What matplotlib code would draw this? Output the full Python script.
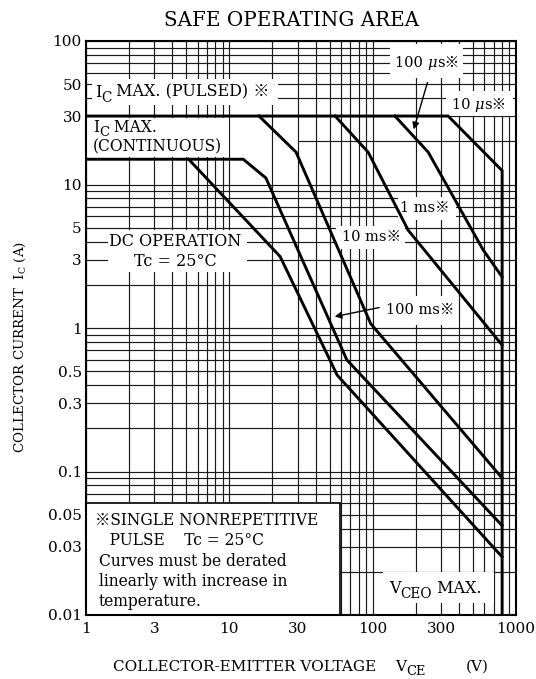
import matplotlib
matplotlib.use("Agg")
import matplotlib.pyplot as plt
from matplotlib.patches import Rectangle

plt.rcParams["font.family"] = ["DejaVu Serif", "Noto Sans CJK JP"]
plt.rcParams["mathtext.fontset"] = "dejavuserif"

# safe operating area curves (V_CE [V], I_C [A])
pulsed_v = [1, 336, 800, 800]          # I_C max pulsed + 10 us + V_CEO max
pulsed_i = [30, 30, 12.5, 0.01]
us100_v = [143, 244, 590, 800]
us100_i = [30, 16.8, 3.5, 2.27]
ms1_v = [54.7, 93, 177, 800]
ms1_i = [30, 16.8, 4.8, 0.76]
ms10_v = [16.1, 29.2, 97, 800]
ms10_i = [30, 16.8, 1.07, 0.090]
ms100_v = [1, 12.5, 18, 66, 800]       # I_C max continuous + 100 ms
ms100_i = [15, 15, 11.1, 0.60, 0.042]
dc_v = [5.2, 22.6, 56.5, 800]
dc_i = [15, 3.15, 0.47, 0.0254]

x_ticks = [1, 3, 10, 30, 100, 300, 1000]
x_labels = ["1", "3", "10", "30", "100", "300", "1000"]
y_ticks = [0.01, 0.03, 0.05, 0.1, 0.3, 0.5, 1, 3, 5, 10, 30, 50, 100]
y_labels = ["0.01", "0.03", "0.05", "0.1", "0.3", "0.5", "1", "3", "5",
            "10", "30", "50", "100"]

fig = plt.figure(figsize=(5.36, 6.79), dpi=100)
ax = fig.add_axes([86 / 536, 1 - 615 / 679, 430 / 536, 574 / 679])
ax.set_xscale("log")
ax.set_yscale("log")
ax.set_xlim(1, 1000)
ax.set_ylim(0.01, 100)


def rich(x, y, parts, size, transform=None, drop=0.28):
    # parts: (text, fontstyle, is_subscript); pieces are chained left to right
    transform = transform or ax.transData
    first = prev = None
    for s, style, sub in parts:
        fsz = size * 0.85 if sub else size
        if first is None:
            first = prev = ax.text(x, y, s, fontsize=fsz, fontstyle=style,
                                   transform=transform, ha="left",
                                   va="center", zorder=4)
        else:
            dy = -drop * size if sub else 0
            prev = ax.annotate(s, xy=(1, 0), xycoords=(prev, first),
                               xytext=(0, dy), textcoords="offset points",
                               fontsize=fsz, fontstyle=style, ha="left",
                               va="bottom", zorder=4, annotation_clip=False)
    return first


# graph paper grid
gc = "#1a1a1a"
gx = [m * 10.0 ** e for e in range(0, 3) for m in range(1, 10)] + [1000]
gy = [m * 10.0 ** e for e in range(-2, 2) for m in range(1, 10)] + [100]
for v in gx:
    ax.axvline(v, color=gc, lw=0.85, zorder=1)
for v in gy:
    if v == 20:
        ax.hlines(v, 30, 1000, color=gc, lw=0.85, zorder=1)
    else:
        ax.axhline(v, color=gc, lw=0.85, zorder=1)

# white areas behind labels (axes fraction)
masks = [
    (0.014, 0.889, 0.433, 0.045),   # pulsed
    (0.0, 0.798, 0.333, 0.068),     # continuous
    (0.051, 0.598, 0.323, 0.073),   # DC operation
    (0.707, 0.936, 0.170, 0.059),   # 100 us
    (0.837, 0.869, 0.156, 0.044),   # 10 us
    (0.726, 0.688, 0.134, 0.040),   # 1 ms
    (0.581, 0.638, 0.161, 0.040),   # 10 ms
    (0.691, 0.505, 0.172, 0.051),   # 100 ms
    (0.691, 0.021, 0.258, 0.054),   # VCEO
]
for x0, y0, w, h in masks:
    ax.add_patch(Rectangle((x0, y0), w, h, transform=ax.transAxes,
                           facecolor="white", edgecolor="none", zorder=2))
ax.add_patch(Rectangle((0, 0), 0.591, 0.195, transform=ax.transAxes,
                       facecolor="white", edgecolor="black", lw=1.2, zorder=2))

# curves
for xs, ys in [(pulsed_v, pulsed_i), (us100_v, us100_i), (ms1_v, ms1_i),
               (ms10_v, ms10_i), (ms100_v, ms100_i), (dc_v, dc_i)]:
    ax.plot(xs, ys, color="black", lw=2.1, zorder=3, solid_joinstyle="miter")

big = 11.5
small = 10.5
rich(1.15, 44, [("I", "normal", False), ("C", "normal", True),
                (" MAX. (PULSED) ※", "normal", False)], big)
rich(1.12, 25.0, [("I", "normal", False), ("C", "normal", True),
                  (" MAX.", "normal", False)], 11.2, drop=0.2)
ax.text(1.12, 18.3, "(CONTINUOUS)", fontsize=11.2, ha="left", va="center",
        zorder=4)
ax.text(4.2, 4.0, "DC OPERATION", fontsize=big, ha="center", va="center",
        zorder=4)
ax.text(4.2, 2.9, "Tc = 25°C", fontsize=big, ha="center", va="center",
        zorder=4)
rich(143, 70, [("100 ", "normal", False), ("μ", "italic", False),
               ("s※", "normal", False)], small)
rich(356, 35.8, [("10 ", "normal", False), ("μ", "italic", False),
                 ("s※", "normal", False)], small)
ax.text(232, 6.86, "1 ms※", fontsize=small, ha="center", va="center", zorder=4)
ax.text(97.5, 4.3, "10 ms※", fontsize=small, ha="center", va="center", zorder=4)
ax.text(214, 1.33, "100 ms※", fontsize=small, ha="center", va="center", zorder=4)
rich(130, 0.0154, [("V", "normal", False), ("CEO", "normal", True),
                   (" MAX.", "normal", False)], big)

ax.annotate("", xy=(191, 23.2), xytext=(244, 53.5),
            arrowprops=dict(arrowstyle="-|>", color="black", lw=1.0), zorder=5)
ax.annotate("", xy=(52, 1.19), xytext=(116, 1.40),
            arrowprops=dict(arrowstyle="-|>", color="black", lw=1.0), zorder=5)

note = [("※SINGLE NONREPETITIVE", 0.021, 0.164),
        ("   PULSE    Tc = 25°C", 0.021, 0.129),
        ("Curves must be derated", 0.030, 0.094),
        ("linearly with increase in", 0.030, 0.059),
        ("temperature.", 0.030, 0.024)]
for s, fx, fy in note:
    ax.text(fx, fy, s, transform=ax.transAxes, fontsize=11.2,
            ha="left", va="center", zorder=4)

ax.set_xticks(x_ticks)
ax.set_xticklabels(x_labels)
ax.set_yticks(y_ticks)
ax.set_yticklabels(y_labels)
ax.minorticks_off()
ax.tick_params(length=0, labelsize=11)
ax.tick_params(axis="x", pad=5)
ax.tick_params(axis="y", pad=3)
for sp in ax.spines.values():
    sp.set_linewidth(1.5)
    sp.set_zorder(6)

fig.text(292 / 536, 1 - 20 / 679, "SAFE OPERATING AREA", fontsize=14.3,
         ha="center", va="center")
fig.text(113 / 536, 1 - 667 / 679, "COLLECTOR-EMITTER VOLTAGE", fontsize=11,
         ha="left", va="center")
rich(395 / 536, 1 - 667 / 679, [("V", "normal", False), ("CE", "normal", True)],
     11, transform=fig.transFigure)
fig.text(466 / 536, 1 - 667 / 679, "(V)", fontsize=11, ha="left", va="center")
fig.text(20 / 536, 1 - 347 / 679,
         r"COLLECTOR CURRENT  I$_{\mathrm{C}}$ (A)", fontsize=9.6,
         ha="center", va="center", rotation=90)

fig.savefig("out.png", dpi=100)
